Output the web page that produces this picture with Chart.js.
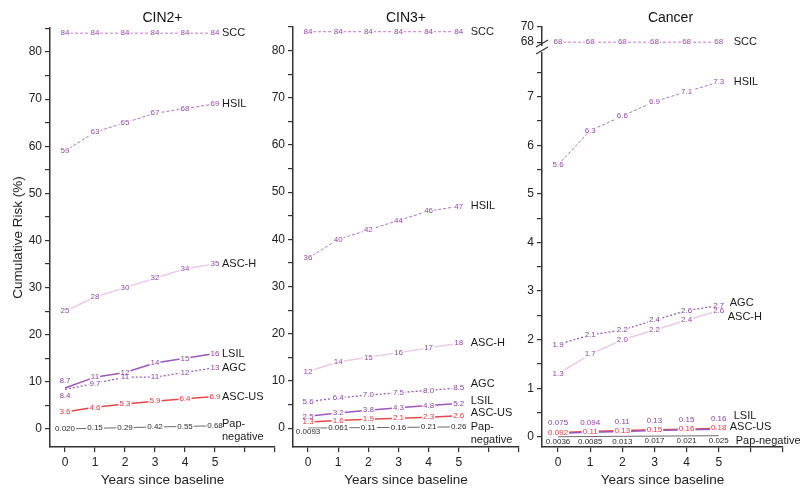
<!DOCTYPE html>
<html>
<head>
<meta charset="utf-8">
<script src="https://cdn.jsdelivr.net/npm/chart.js@4.4.0/dist/chart.umd.min.js"></script>
<style>
  html, body { margin: 0; padding: 0; background: #fff; }
  #wrap { position: relative; width: 800px; height: 498px; overflow: hidden; }
  #wrap canvas { position: absolute; top: 0; }
</style>
</head>
<body>
<div id="wrap">
  <canvas id="cin2" width="285" height="498" style="left:0px"></canvas>
  <canvas id="cin3" width="280" height="498" style="left:255px"></canvas>
  <canvas id="cancer" width="300" height="498" style="left:500px"></canvas>
</div>
<script>
const years = [0, 1, 2, 3, 4, 5];

// CIN2+
const cin2SCC   = [84, 84, 84, 84, 84, 84];
const cin2HSIL  = [59, 63, 65, 67, 68, 69];
const cin2ASCH  = [25, 28, 30, 32, 34, 35];
const cin2LSIL  = [8.7, 11, 12, 14, 15, 16];
const cin2AGC   = [8.4, 9.7, 11, 11, 12, 13];
const cin2ASCUS = [3.6, 4.6, 5.3, 5.9, 6.4, 6.9];
const cin2Neg   = [0.020, 0.15, 0.29, 0.42, 0.55, 0.68];

// CIN3+
const cin3SCC   = [84, 84, 84, 84, 84, 84];
const cin3HSIL  = [36, 40, 42, 44, 46, 47];
const cin3ASCH  = [12, 14, 15, 16, 17, 18];
const cin3AGC   = [5.6, 6.4, 7.0, 7.5, 8.0, 8.5];
const cin3LSIL  = [2.5, 3.2, 3.8, 4.3, 4.8, 5.2];
const cin3ASCUS = [1.3, 1.6, 1.9, 2.1, 2.3, 2.6];
const cin3Neg   = [0.0093, 0.061, 0.11, 0.16, 0.21, 0.26];

// Cancer
const cancSCC   = [68, 68, 68, 68, 68, 68];
const cancHSIL  = [5.6, 6.3, 6.6, 6.9, 7.1, 7.3];
const cancAGC   = [1.9, 2.1, 2.2, 2.4, 2.6, 2.7];
const cancASCH  = [1.3, 1.7, 2.0, 2.2, 2.4, 2.6];
const cancLSIL  = [0.075, 0.094, 0.11, 0.13, 0.15, 0.16];
const cancASCUS = [0.092, 0.11, 0.13, 0.15, 0.16, 0.18];
const cancNeg   = [0.0036, 0.0085, 0.013, 0.017, 0.021, 0.025];

const xTickLabels = ['0', '1', '2', '3', '4', '5'];

const FONT = '"Liberation Sans", Arial, sans-serif';
Chart.defaults.font.family = FONT;
Chart.defaults.color = '#222';

const styles = {
  'SCC':          { line: '#c874cf', text: '#9a48ac', dash: [3, 2], width: 1 },
  'HSIL':         { line: '#b36ec8', text: '#9a48ac', dash: [3, 2], width: 1 },
  'ASC-H':        { line: '#eccbe8', text: '#9a48ac', dash: [], width: 1.5 },
  'LSIL':         { line: '#9b58b9', text: '#8e3fa6', dash: [], width: 1.5 },
  'AGC':          { line: '#9b58b9', text: '#8e3fa6', dash: [2, 2], width: 1.3 },
  'ASC-US':       { line: '#e8484c', text: '#e0383c', dash: [], width: 1.5 },
  'Pap-negative': { line: '#6a6a6a', text: '#2a2a2a', dash: [], width: 1 }
};

function series(name, values, extra) {
  const st = styles[name];
  return Object.assign({
    label: name,
    data: values.map((v, i) => ({ x: years[i], y: v })),
    borderColor: st.line,
    borderWidth: st.width,
    borderDash: st.dash,
    pointRadius: 0,
    tension: 0,
    textColor: st.text,
    labelDy: 0,
    nameDy: 0,
    nameText: name
  }, extra || {});
}

// value labels on each point, series names at line ends, panel title
const panelText = {
  id: 'panelText',
  afterDatasetsDraw(chart, args, opts) {
    const ctx = chart.ctx;
    const area = chart.chartArea;
    const items = [];
    chart.data.datasets.forEach((ds, di) => {
      const meta = chart.getDatasetMeta(di);
      meta.data.forEach((pt, i) => {
        const dy = Array.isArray(ds.labelDy) ? ds.labelDy[i] : ds.labelDy;
        items.push({ x: pt.x, y: pt.y + dy, txt: ds.data[i].y.toPrecision(2), color: ds.textColor });
      });
    });

    ctx.save();
    ctx.font = '8px ' + FONT;
    ctx.textAlign = 'center';
    ctx.textBaseline = 'middle';
    ctx.fillStyle = '#fff';
    items.forEach(it => {
      const w = ctx.measureText(it.txt).width;
      ctx.fillRect(it.x - w / 2 - 1, it.y - 3.5, w + 2, 7);
    });
    items.forEach(it => {
      ctx.fillStyle = it.color;
      ctx.fillText(it.txt, it.x, it.y);
    });

    ctx.font = '11px ' + FONT;
    ctx.textAlign = 'left';
    ctx.fillStyle = '#1a1a1a';
    chart.data.datasets.forEach((ds, di) => {
      const meta = chart.getDatasetMeta(di);
      const last = meta.data[meta.data.length - 1];
      const dx = ds.nameDx !== undefined ? ds.nameDx : opts.nameDx;
      ds.nameText.split('\n').forEach((ln, k) => {
        ctx.fillText(ln, last.x + dx, last.y + ds.nameDy + k * 13);
      });
    });

    ctx.font = '14px ' + FONT;
    ctx.textAlign = 'center';
    ctx.fillStyle = '#111';
    ctx.fillText(opts.title, (area.left + area.right) / 2 + (opts.titleDx || 0), 18);
    ctx.restore();
  }
};

const axisBreak = {
  id: 'axisBreak',
  afterDraw(chart) {
    const ctx = chart.ctx;
    const x = chart.chartArea.left;
    const yb = chart.scales.yTop.bottom;
    ctx.save();
    ctx.fillStyle = '#fff';
    ctx.fillRect(x - 3, yb - 3, 6, 6);
    ctx.strokeStyle = '#333';
    ctx.lineWidth = 1.2;
    ctx.beginPath();
    ctx.moveTo(x - 6, yb - 2); ctx.lineTo(x + 6, yb - 9);
    ctx.moveTo(x - 6, yb + 5); ctx.lineTo(x + 6, yb - 2);
    ctx.stroke();
    ctx.restore();
  }
};

const AXIS_BORDER = { color: '#333', width: 1.5 };
const AXIS_GRID = { drawOnChartArea: false, drawTicks: true, tickLength: 5, color: '#333', lineWidth: 1.2 };

function xScale() {
  return {
    type: 'linear', min: -0.5, max: 7,
    afterFit: s => { s.height = 51; },
    border: AXIS_BORDER, grid: AXIS_GRID,
    ticks: {
      stepSize: 1, includeBounds: false, autoSkip: false, maxRotation: 0, padding: 3,
      font: { size: 12 },
      callback: v => (xTickLabels[v] !== undefined ? xTickLabels[v] : '')
    },
    title: { display: true, text: 'Years since baseline', font: { size: 13.5 }, padding: { top: 0, bottom: 10 } }
  };
}

function yScale(min, max, step, every, width, extra) {
  return Object.assign({
    type: 'linear', min: min, max: max,
    afterFit: s => { s.width = width; },
    border: AXIS_BORDER, grid: AXIS_GRID,
    ticks: {
      stepSize: step, includeBounds: false, autoSkip: false, padding: 3,
      font: { size: 12 },
      callback: v => (Math.abs(v / every - Math.round(v / every)) < 1e-6 ? String(v) : '')
    }
  }, extra || {});
}

function makePanel(id, datasets, scales, padding, text, extraPlugins) {
  return new Chart(document.getElementById(id), {
    type: 'line',
    data: { datasets: datasets },
    options: {
      responsive: false,
      animation: false,
      layout: { padding: padding },
      plugins: { legend: { display: false }, tooltip: { enabled: false }, panelText: text },
      scales: scales
    },
    plugins: [panelText].concat(extraPlugins || [])
  });
}

makePanel('cin2', [
  series('SCC', cin2SCC),
  series('HSIL', cin2HSIL),
  series('ASC-H', cin2ASCH),
  series('LSIL', cin2LSIL, { labelDy: [-7, 0, 0, 0, 0, 0] }),
  series('AGC', cin2AGC, { labelDy: [6, 1, 0, 0, 0, 0] }),
  series('ASC-US', cin2ASCUS),
  series('Pap-negative', cin2Neg, { nameText: 'Pap-\nnegative', nameDy: -2 })
], {
  x: xScale(),
  y: yScale(-3.82, 85.1, 5, 10, 50, {
    title: { display: true, text: 'Cumulative Risk (%)', font: { size: 13.5 }, padding: { top: 10, bottom: 0 } }
  })
}, { left: 0, right: 10, top: 28, bottom: 0 }, { title: 'CIN2+', nameDx: 7 });

makePanel('cin3', [
  series('SCC', cin3SCC),
  series('HSIL', cin3HSIL),
  series('ASC-H', cin3ASCH),
  series('AGC', cin3AGC, { nameDy: -4 }),
  series('LSIL', cin3LSIL, { nameDy: -3 }),
  series('ASC-US', cin3ASCUS, { nameDy: -3 }),
  series('Pap-negative', cin3Neg, { nameText: 'Pap-\nnegative', nameDy: 0, labelDy: [4, 0, 0, 0, 0, 0] })
], {
  x: xScale(),
  y: yScale(-4, 85, 5, 10, 38)
}, { left: 0, right: 16, top: 27, bottom: 0 }, { title: 'CIN3+', nameDx: 12 });

makePanel('cancer', [
  series('SCC', cancSCC, { yAxisID: 'yTop', nameDx: 15 }),
  series('HSIL', cancHSIL, { nameDx: 15 }),
  series('AGC', cancAGC, { nameDy: -3, nameDx: 11 }),
  series('ASC-H', cancASCH, { nameDy: 6, nameDx: 9 }),
  series('LSIL', cancLSIL, { labelDy: -10, nameDy: -13, nameDx: 15 }),
  series('ASC-US', cancASCUS, { nameDy: -1, nameDx: 11 }),
  series('Pap-negative', cancNeg, { labelDy: 5, nameDy: 5, nameDx: 17 })
], {
  x: xScale(),
  y: yScale(-0.207, 7.98, 0.5, 1, 42, { stack: 'cancer', stackWeight: 398 }),
  yTop: yScale(67.1, 70, 2, 2, 42, { position: 'left', stack: 'cancer', stackWeight: 22 })
}, { left: 0, right: 17, top: 27, bottom: 0 }, { title: 'Cancer', titleDx: 8, nameDx: 12 }, [axisBreak]);
</script>
</body>
</html>
